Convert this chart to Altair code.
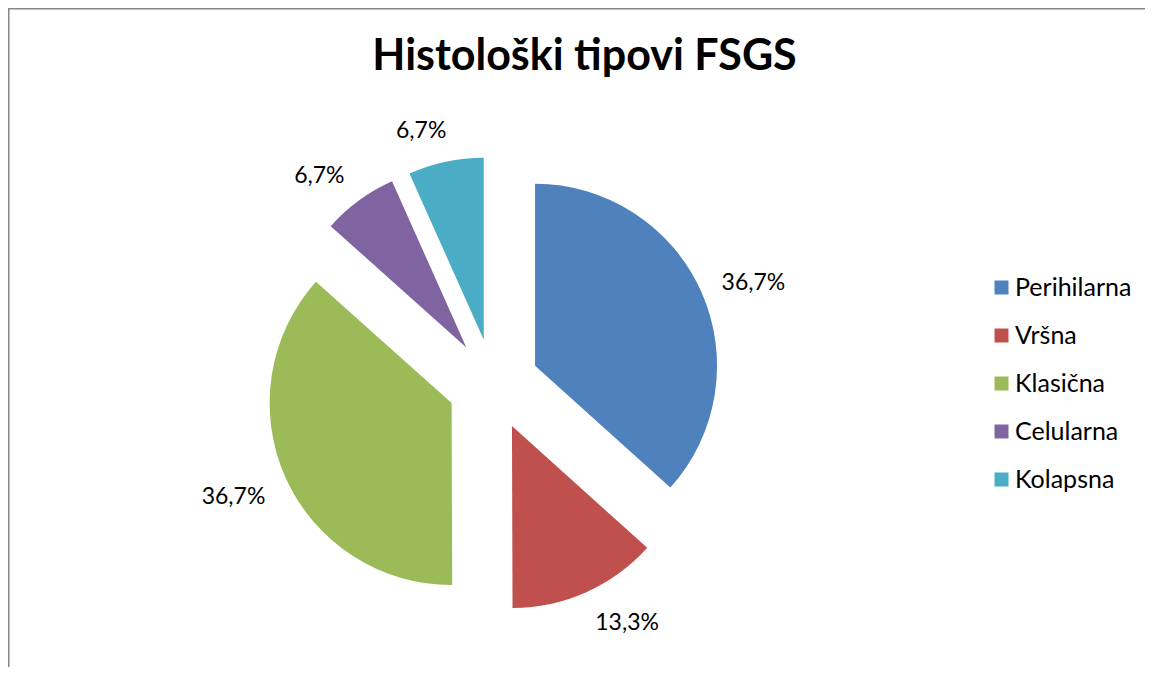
import altair as alt
import pandas as pd

# ---- data ----
categories = ["Perihilarna", "Vršna", "Klasična", "Celularna", "Kolapsna"]
percents = [36.7, 13.3, 36.7, 6.7, 6.7]
colors = ["#4F81BD", "#C0504D", "#9BBB59", "#8064A2", "#4BACC6"]
title_text = "Histološki tipovi FSGS"

df = pd.DataFrame({"cat": categories, "value": percents, "idx": list(range(len(categories)))})

# ---- layout constants (pixels) ----
W, H = 1137, 659
CX, CY = 485.3, 376.4        # pie centre inside plot area
RADIUS = 182
EXPLODE = 45.7
LABEL_D = 250
FONT = "Lato"

xscale = alt.Scale(domain=[-CX, W - CX], range=[0, W])
yscale = alt.Scale(domain=[-(H - CY), CY], range=[H, 0])

base = (
    alt.Chart(df)
    .transform_joinaggregate(total="sum(value)")
    .transform_window(cum="sum(value)", sort=[alt.SortField("idx")], frame=[None, 0])
    .transform_calculate(
        t0="(datum.cum - datum.value) / datum.total * 2 * PI",
        t1="datum.cum / datum.total * 2 * PI",
    )
    .transform_calculate(mid="(datum.t0 + datum.t1) / 2")
    .transform_calculate(
        ex=f"sin(datum.mid) * {EXPLODE}",
        ey=f"cos(datum.mid) * {EXPLODE}",
        label="replace(format(datum.value, '.1f'), '.', ',') + '%'",
    )
    .transform_calculate(
        tw="10.5 * length(datum.label) + 11",
        fx="clamp(0.5 - 1.8 * sin(datum.mid), 0, 1)",
        fy="clamp(0.2 + 0.75 * cos(datum.mid), 0, 1)",
    )
    .transform_calculate(
        lx=f"sin(datum.mid) * {LABEL_D} + (0.5 - datum.fx) * datum.tw",
        ly=f"cos(datum.mid) * {LABEL_D} - (0.5 - datum.fy) * 20",
    )
)

arcs = base.mark_arc(outerRadius=RADIUS, innerRadius=0).encode(
    x=alt.X("ex:Q", scale=xscale, axis=None),
    y=alt.Y("ey:Q", scale=yscale, axis=None),
    theta=alt.Theta("t0:Q", scale=None),
    theta2="t1:Q",
    color=alt.Color(
        "cat:N",
        sort=categories,
        scale=alt.Scale(domain=categories, range=colors),
        legend=alt.Legend(
            title=None,
            orient="none",
            legendX=981,
            legendY=267,
            symbolType="square",
            symbolSize=196,
            symbolStrokeWidth=0,
            labelFontSize=25,
            labelFont=FONT,
            labelColor="#000000",
            labelOffset=1,
            rowPadding=22,
            padding=0,
        ),
    ),
    order=alt.Order("idx:Q"),
)

labels = base.mark_text(
    font=FONT, fontSize=23, color="#000000", align="center", baseline="middle"
).encode(
    x=alt.X("lx:Q", scale=xscale, axis=None),
    y=alt.Y("ly:Q", scale=yscale, axis=None),
    text="label:N",
)

blank = alt.Data(values=[{}])
border_left = alt.Chart(blank).mark_rule(color="#868686", strokeWidth=3).encode(
    x=alt.value(0), y=alt.value(0), y2=alt.value(H)
)
border_top = alt.Chart(blank).mark_rule(color="#868686", strokeWidth=3).encode(
    x=alt.value(0), x2=alt.value(W), y=alt.value(0)
)

chart = (
    alt.layer(arcs, labels, border_left, border_top)
    .properties(
        width=W,
        height=H,
        autosize=alt.AutoSizeParams(type="none"),
        padding=0,
        title=alt.TitleParams(
            title_text,
            font=FONT,
            fontSize=43,
            fontWeight="bold",
            color="#000000",
            anchor="middle",
            offset=-72,
            dx=8,
        ),
    )
    .configure_view(stroke=None)
)

chart.save("out.html", embed_options={"renderer": "svg", "actions": False})
